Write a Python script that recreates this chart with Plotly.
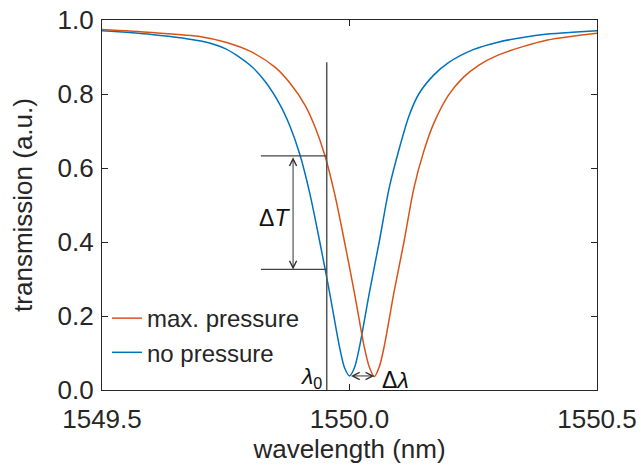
import plotly.graph_objects as go

# Transmission spectra of the resonator dip (wavelength in nm, transmission in a.u.)
wl_no = [1549.50, 1549.60, 1549.70, 1549.75, 1549.80, 1549.83, 1549.86, 1549.88,
         1549.90, 1549.92, 1549.94, 1549.96, 1549.98, 1549.99, 1550.00, 1550.01,
         1550.02, 1550.04, 1550.06, 1550.08, 1550.10, 1550.12, 1550.14, 1550.17,
         1550.20, 1550.25, 1550.30, 1550.35, 1550.40, 1550.45, 1550.50]
t_no = [0.971, 0.961, 0.943, 0.922, 0.877, 0.833, 0.770, 0.712,
        0.635, 0.530, 0.400, 0.262, 0.115, 0.060, 0.038, 0.060,
        0.115, 0.262, 0.400, 0.545, 0.650, 0.740, 0.800, 0.851,
        0.885, 0.920, 0.940, 0.953, 0.962, 0.967, 0.971]

wl_max = [1549.50, 1549.60, 1549.70, 1549.75, 1549.80, 1549.85, 1549.88, 1549.91,
          1549.93, 1549.95, 1549.97, 1549.99, 1550.01, 1550.03, 1550.04, 1550.05,
          1550.06, 1550.07, 1550.09, 1550.11, 1550.13, 1550.15, 1550.17, 1550.20,
          1550.23, 1550.26, 1550.30, 1550.35, 1550.40, 1550.45, 1550.50]
t_max = [0.974, 0.966, 0.955, 0.940, 0.915, 0.872, 0.829, 0.770,
         0.712, 0.635, 0.530, 0.400, 0.262, 0.115, 0.062, 0.036,
         0.062, 0.117, 0.265, 0.400, 0.545, 0.645, 0.720, 0.797,
         0.845, 0.877, 0.905, 0.928, 0.946, 0.956, 0.964]

# Axis ticks
x_ticks = [1549.5, 1550.0, 1550.5]
y_ticks = [0.0, 0.2, 0.4, 0.6, 0.8, 1.0]

# Annotation geometry (data units)
lambda0 = 1549.954          # operating wavelength
lambda0_top = 0.886         # top of the marker line
dT_high = 0.633             # transmission of shifted dip at lambda0
dT_low = 0.326              # transmission of unshifted dip at lambda0
dT_left = 1549.821          # left end of the level lines
dT_arrow_x = 1549.886
dl_start, dl_end, dl_y = 1550.000, 1550.050, 0.038

BLUE = "#0072BD"
RED = "#D95319"
AX = "#262626"
FONT = "Liberation Sans, Arial, Helvetica, sans-serif"

fig = go.Figure()
fig.add_trace(go.Scatter(x=wl_no, y=t_no, mode="lines", name="no pressure",
                         line=dict(color=BLUE, width=1.5, shape="spline", smoothing=0.8)))
fig.add_trace(go.Scatter(x=wl_max, y=t_max, mode="lines", name="max. pressure",
                         line=dict(color=RED, width=1.5, shape="spline", smoothing=0.8)))

# lambda0 marker and the two transmission levels
fig.add_shape(type="line", x0=lambda0, x1=lambda0, y0=0, y1=lambda0_top,
              line=dict(color="#555555", width=1.5))
for lvl in (dT_high, dT_low):
    fig.add_shape(type="line", x0=dT_left, x1=lambda0, y0=lvl, y1=lvl,
                  line=dict(color="#444444", width=1.3))

# double-headed arrows
fig.add_annotation(x=dT_arrow_x, y=dT_low, ax=dT_arrow_x, ay=dT_high,
                   xref="x", yref="y", axref="x", ayref="y", text="",
                   showarrow=True, arrowhead=5, arrowside="end+start",
                   arrowsize=1.4, arrowwidth=1, arrowcolor="#333333")
fig.add_annotation(x=dl_end, y=dl_y, ax=dl_start, ay=dl_y,
                   xref="x", yref="y", axref="x", ayref="y", text="",
                   showarrow=True, arrowhead=5, arrowside="end+start",
                   arrowsize=1.4, arrowwidth=1, arrowcolor="#333333")

# labels
fig.add_annotation(x=dT_arrow_x, y=(dT_high + dT_low) / 2, xref="x", yref="y",
                   text="Δ<i>T</i>", showarrow=False, xanchor="right", xshift=-1, yshift=-5,
                   font=dict(family=FONT, size=23, color="#111111"))
fig.add_annotation(x=dl_end, y=dl_y, xref="x", yref="y",
                   text="Δ<i>λ</i>", showarrow=False, xanchor="left", xshift=6, yshift=-4,
                   font=dict(family=FONT, size=23, color="#111111"))
fig.add_annotation(x=lambda0, y=0, xref="x", yref="y",
                   text="<i>λ</i><sub>0</sub>", showarrow=False,
                   xanchor="right", yanchor="bottom", xshift=-3, yshift=-4,
                   font=dict(family=FONT, size=23, color="#111111"))

axis_common = dict(showline=True, linecolor=AX, linewidth=1.3, mirror="ticks",
                   ticks="inside", ticklen=6, tickwidth=1.3, tickcolor=AX,
                   showgrid=False, zeroline=False, automargin=False,
                   tickfont=dict(family=FONT, size=26, color=AX))

fig.update_layout(
    width=641, height=470,
    margin=dict(l=102, r=44, t=20, b=80),
    paper_bgcolor="white", plot_bgcolor="white",
    font=dict(family=FONT, color=AX),
    showlegend=True,
    legend=dict(x=0.01, y=0.254, xanchor="left", yanchor="top",
                traceorder="reversed", bgcolor="rgba(0,0,0,0)",
                font=dict(family=FONT, size=24, color=AX)),
    xaxis=dict(range=[1549.5, 1550.5], tickvals=x_ticks,
               ticktext=[f"{v:.1f}" for v in x_ticks], ticklabelstandoff=6,
               title=dict(text="wavelength (nm)", font=dict(family=FONT, size=26, color=AX), standoff=4),
               **axis_common),
    yaxis=dict(range=[0, 1], tickvals=y_ticks,
               ticktext=[f"{v:.1f}" for v in y_ticks], ticklabelstandoff=2,
               title=dict(text="transmission (a.u.)", font=dict(family=FONT, size=26, color=AX), standoff=17),
               **axis_common),
)

fig.write_html("out.html")
